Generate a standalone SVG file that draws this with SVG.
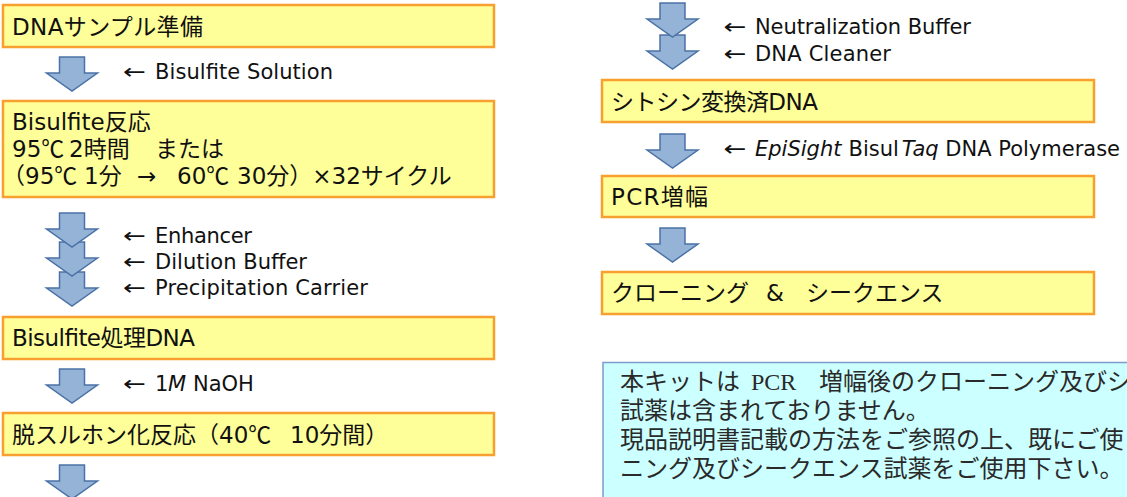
<svg xmlns="http://www.w3.org/2000/svg" width="1127" height="497" viewBox="0 0 1127 497">
<style>
.box{fill:#FFFF99;stroke:#F7A030;stroke-width:2.5}
.note{fill:#CCFFFF;stroke:#7E9CC9;stroke-width:1.5}
.t{font-family:"DejaVu Sans","Noto Sans CJK JP",sans-serif;font-size:23px;fill:#111}
.c{font-family:"Noto Sans CJK JP",sans-serif}
.lb{font-family:"DejaVu Sans","Noto Sans CJK JP",sans-serif;font-size:21px;fill:#111}
.ar{font-family:"DejaVu Sans",sans-serif;font-size:21px;fill:#111}
.it{font-style:italic}
.nt{font-family:"Liberation Serif","Noto Sans CJK JP",serif;font-size:24px;fill:#2a2a2a}
.dn{fill:#95B3D7;stroke:#4A72A6;stroke-width:1.5;stroke-linejoin:miter}
</style>
<defs>
<path id="dn" class="dn" d="M-12.5 0H12.5V16H25.5L0 34L-25.5 16H-12.5Z"/>
</defs>
<rect width="1127" height="497" fill="#fff"/>

<g id="connectors">
<use href="#dn" x="72" y="57"/>
<use href="#dn" x="72" y="272"/>
<use href="#dn" x="72" y="242"/>
<use href="#dn" x="72" y="213"/>
<use href="#dn" x="72" y="369"/>
<use href="#dn" x="72" y="465"/>
<use href="#dn" x="672.5" y="35"/>
<use href="#dn" x="672.5" y="3"/>
<use href="#dn" x="672.5" y="134"/>
<use href="#dn" x="672.5" y="228"/>
</g>

<g id="labels">
<text class="ar" transform="translate(123 79) scale(1.3 1)">←</text><text class="lb" x="155" y="79" textLength="178">Bisulfite Solution</text>
<text class="ar" transform="translate(123 243) scale(1.3 1)">←</text><text class="lb" x="155" y="243" textLength="97">Enhancer</text>
<text class="ar" transform="translate(123 269) scale(1.3 1)">←</text><text class="lb" x="155" y="269" textLength="152">Dilution Buffer</text>
<text class="ar" transform="translate(123 295) scale(1.3 1)">←</text><text class="lb" x="155" y="295" textLength="213">Precipitation Carrier</text>
<text class="ar" transform="translate(123 391) scale(1.3 1)">←</text><text class="lb" y="391"><tspan x="155">1</tspan><tspan x="168" class="it">M </tspan><tspan x="193">NaOH</tspan></text>
<text class="ar" transform="translate(723.5 34) scale(1.3 1)">←</text><text class="lb" x="755" y="34" textLength="216">Neutralization Buffer</text>
<text class="ar" transform="translate(723.5 61) scale(1.3 1)">←</text><text class="lb" x="755" y="61" textLength="136">DNA Cleaner</text>
<text class="ar" transform="translate(723.5 156) scale(1.3 1)">←</text><text class="lb" y="156"><tspan x="755" class="it">EpiSight </tspan><tspan x="848.5">Bisul</tspan><tspan dx="3" class="it">Taq</tspan><tspan> DNA Polymerase</tspan></text>
</g>

<g id="n1">
<rect class="box" x="3" y="5" width="491" height="42"/>
<text class="t" x="12" y="35" textLength="191">DNAサンプル準備</text>
</g>
<g id="n2">
<rect class="box" x="3" y="101" width="491" height="96"/>
<text class="t"><tspan x="12" y="130">Bisulfite反応</tspan><tspan x="12" y="157">95<tspan class="c">℃</tspan> </tspan><tspan x="69" y="157">2時間 </tspan><tspan x="155" y="157">または</tspan><tspan x="2" y="184">（</tspan><tspan x="25" y="184">95<tspan class="c">℃</tspan> </tspan><tspan x="84" y="184">1分 </tspan><tspan x="137" y="184">→ </tspan><tspan x="177" y="184">60<tspan class="c">℃</tspan> </tspan><tspan x="237" y="184">30分）×32サイクル</tspan></text>
</g>
<g id="n3">
<rect class="box" x="3" y="317" width="491" height="42"/>
<text class="t" x="12" y="346" textLength="183">Bisulfite処理DNA</text>
</g>
<g id="n4">
<rect class="box" x="3" y="413" width="491" height="42"/>
<text class="t" y="443"><tspan x="12">脱スルホン化反応（40<tspan class="c">℃</tspan> </tspan><tspan x="290">10分間）</tspan></text>
</g>
<g id="n5">
<rect class="box" x="602" y="80" width="492" height="42"/>
<text class="t" x="611" y="110" textLength="207">シトシン変換済DNA</text>
</g>
<g id="n6">
<rect class="box" x="602" y="176" width="492" height="41"/>
<text class="t" x="611" y="205" textLength="97">PCR増幅</text>
</g>
<g id="n7">
<rect class="box" x="602" y="272" width="492" height="42"/>
<text class="t" y="301"><tspan x="611">クローニング </tspan><tspan x="766">&amp; </tspan><tspan x="806">シークエンス</tspan></text>
</g>
<g id="note">
<rect class="note" x="603" y="362.5" width="600" height="200"/>
<text class="nt"><tspan x="620" y="390">本キットは </tspan><tspan x="751" y="390">PCR </tspan><tspan x="819" y="390">増幅後のクローニング及びシー</tspan><tspan x="620" y="419">試薬は含まれておりません。</tspan><tspan x="620" y="448">現品説明書記載の方法をご参照の上、既にご使</tspan><tspan x="620" y="477">ニング及びシークエンス試薬をご使用下さい。</tspan></text>
</g>
</svg>
